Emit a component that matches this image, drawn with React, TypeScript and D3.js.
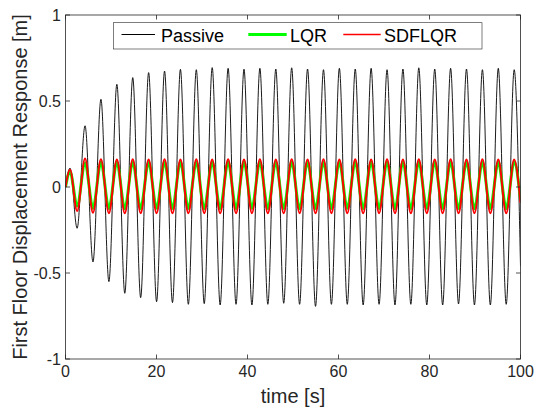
import React from 'react';
import * as d3 from 'd3';

// Times of the local extrema (s)
const tExt = [
  0, 1.0, 2.55, 4.3, 6.04, 7.79, 9.54, 11.29, 13.03, 14.78, 16.52, 18.27, 20.02, 21.77,
  23.51, 25.26, 27.0, 28.75, 30.49, 32.24, 33.99, 35.74, 37.48, 39.23, 40.97, 42.72,
  44.47, 46.22, 47.96, 49.71, 51.45, 53.2, 54.95, 56.7, 58.44, 60.19, 61.93, 63.68,
  65.42, 67.17, 68.92, 70.67, 72.41, 74.16, 75.9, 77.65, 79.4, 81.15, 82.89, 84.64,
  86.38, 88.13, 89.88, 91.63, 93.37, 95.12, 96.86, 98.61, 100,
];

// Passive response at those times (m)
const passive = [
  0, 0.11, -0.24, 0.356, -0.436, 0.51, -0.55, 0.597, -0.618, 0.636, -0.643, 0.665, -0.667, 0.674,
  -0.672, 0.684, -0.682, 0.682, -0.678, 0.694, -0.686, 0.69, -0.682, 0.685, -0.686, 0.69,
  -0.682, 0.686, -0.676, 0.693, -0.682, 0.686, -0.694, 0.682, -0.682, 0.69, -0.682, 0.686,
  -0.686, 0.69, -0.682, 0.682, -0.686, 0.686, -0.682, 0.693, -0.686, 0.686, -0.686, 0.69,
  -0.68, 0.686, -0.686, 0.682, -0.686, 0.69, -0.682, 0.682, -0.46,
];

// LQR response (m)
const lqr = [
  0, 0.09, -0.11, 0.14, -0.124, 0.145, -0.125, 0.144, -0.126, 0.145, -0.125, 0.145, -0.124, 0.144,
  -0.125, 0.145, -0.125, 0.145, -0.126, 0.144, -0.125, 0.145, -0.125, 0.145, -0.124, 0.145,
  -0.125, 0.144, -0.125, 0.145, -0.126, 0.145, -0.125, 0.144, -0.125, 0.145, -0.124, 0.145,
  -0.125, 0.145, -0.125, 0.144, -0.126, 0.145, -0.125, 0.145, -0.124, 0.144, -0.125, 0.145,
  -0.125, 0.145, -0.126, 0.144, -0.125, 0.145, -0.125, 0.145, -0.075,
];

// SDFLQR response (m)
const sdflqr = [
  0, 0.10, -0.14, 0.165, -0.15, 0.162, -0.152, 0.16, -0.153, 0.161, -0.152, 0.16, -0.152, 0.161,
  -0.153, 0.16, -0.152, 0.161, -0.152, 0.16, -0.153, 0.161, -0.152, 0.16, -0.152, 0.161,
  -0.153, 0.16, -0.152, 0.161, -0.152, 0.16, -0.153, 0.161, -0.152, 0.16, -0.152, 0.161,
  -0.153, 0.16, -0.152, 0.161, -0.152, 0.16, -0.153, 0.161, -0.152, 0.16, -0.152, 0.161,
  -0.153, 0.16, -0.152, 0.161, -0.152, 0.16, -0.153, 0.16, -0.093,
];

const xTicks = [0, 20, 40, 60, 80, 100];
const yTicks = [-1, -0.5, 0, 0.5, 1];
const seriesNames = ['Passive', 'LQR', 'SDFLQR'];

const FONT = "'Liberation Sans', Arial, Helvetica, sans-serif";
const AX = '#262626';

export default function App() {
  const W = 537, H = 413;
  const L = 65.5, R = 520.5, T = 15, B = 359;
  const x = d3.scaleLinear().domain([0, 100]).range([L, R]);
  const y = d3.scaleLinear().domain([-1, 1]).range([B, T]);
  const mk = (vals: number[]) =>
    d3.line<number>()
      .x((_, i) => x(tExt[i]))
      .y((d) => y(d))
      .curve(d3.curveMonotoneX)(vals) as string;

  const tl = 4.5;
  const yFmt = (v: number) => (v === 0 ? '0' : String(v));

  const legendItems = [
    { name: seriesNames[0], color: '#000000', w: 1, x1: 121.5, x2: 155, tx: 161 },
    { name: seriesNames[1], color: '#00ff00', w: 3.2, x1: 248.3, x2: 286.7, tx: 290 },
    { name: seriesNames[2], color: '#ff0000', w: 1.6, x1: 343.3, x2: 380.7, tx: 384 },
  ];

  return (
    <svg width={W} height={H} style={{ position: 'absolute', left: 0, top: 0, background: '#fff' }}
      fontFamily={FONT}>
      <rect x={0} y={0} width={W} height={H} fill="#fff" />
      <defs>
        <clipPath id="plotclip">
          <rect x={L} y={T} width={R - L} height={B - T} />
        </clipPath>
      </defs>
      <g clipPath="url(#plotclip)" fill="none" strokeLinejoin="round">
        <path d={mk(passive)} stroke="#000" strokeWidth={0.9} />
        <path d={mk(lqr)} stroke="#00ff00" strokeWidth={3} />
        <path d={mk(sdflqr)} stroke="#ff0000" strokeWidth={2} />
      </g>
      {/* axes box */}
      <rect x={L} y={T} width={R - L} height={B - T} fill="none" stroke={AX} strokeWidth={0.8} />
      {xTicks.map((t) => (
        <g key={'x' + t}>
          <line x1={x(t)} x2={x(t)} y1={B} y2={B - tl} stroke={AX} strokeWidth={0.8} />
          <line x1={x(t)} x2={x(t)} y1={T} y2={T + tl} stroke={AX} strokeWidth={0.8} />
          <text x={x(t)} y={377} textAnchor="middle" fontSize={16} fill={AX}>{t}</text>
        </g>
      ))}
      {yTicks.map((t) => (
        <g key={'y' + t}>
          <line x1={L} x2={L + tl} y1={y(t)} y2={y(t)} stroke={AX} strokeWidth={0.8} />
          <line x1={R} x2={R - tl} y1={y(t)} y2={y(t)} stroke={AX} strokeWidth={0.8} />
          <text x={61} y={y(t) + 6} textAnchor="end" fontSize={16} fill={AX}>{yFmt(t)}</text>
        </g>
      ))}
      <text x={(L + R) / 2} y={403} textAnchor="middle" fontSize={20} fill={AX}>time [s]</text>
      <text transform={`translate(27,${(T + B) / 2}) rotate(-90)`} textAnchor="middle" fontSize={20} fill={AX}>
        First Floor Displacement Response [m]
      </text>
      {/* legend */}
      <rect x={113.3} y={22.7} width={368.7} height={26.3} fill="#fff" stroke={AX} strokeWidth={0.6} />
      {legendItems.map((it) => (
        <g key={it.name}>
          <line x1={it.x1} x2={it.x2} y1={34.5} y2={34.5} stroke={it.color} strokeWidth={it.w} />
          <text x={it.tx} y={41.5} fontSize={18} fill="#000">{it.name}</text>
        </g>
      ))}
    </svg>
  );
}
